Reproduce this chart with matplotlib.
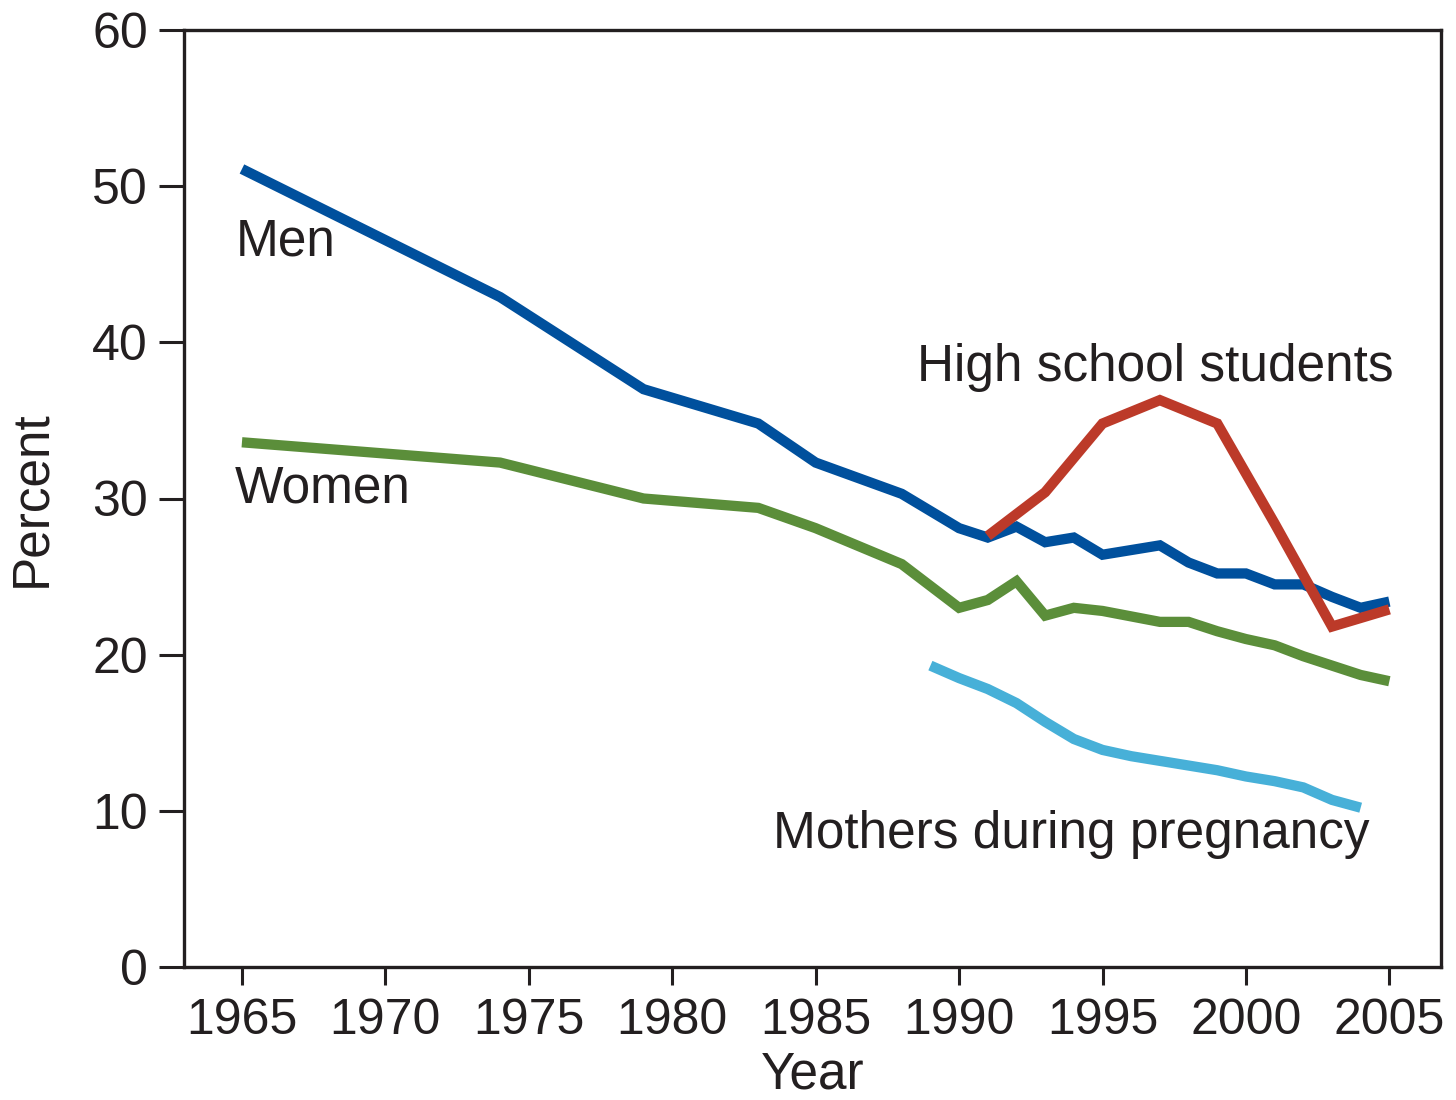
import matplotlib
matplotlib.use("Agg")
import matplotlib.pyplot as plt

plt.rcParams['font.family'] = ['Liberation Sans', 'DejaVu Sans']

# Data (percent who smoke)
men_years = [1965, 1974, 1979, 1983, 1985, 1988, 1990, 1991, 1992, 1993, 1994, 1995,
             1997, 1998, 1999, 2000, 2001, 2002, 2003, 2004, 2005]
men_vals = [51.1, 42.9, 37.0, 34.8, 32.3, 30.3, 28.1, 27.5, 28.2, 27.2, 27.5, 26.4,
            27.0, 25.9, 25.2, 25.2, 24.5, 24.5, 23.7, 23.0, 23.4]

women_years = men_years
women_vals = [33.6, 32.3, 30.0, 29.4, 28.1, 25.8, 23.0, 23.5, 24.7, 22.5, 23.0, 22.8,
              22.1, 22.1, 21.5, 21.0, 20.6, 19.9, 19.3, 18.7, 18.3]

hs_years = [1991, 1993, 1995, 1997, 1999, 2001, 2003, 2005]
hs_vals = [27.6, 30.4, 34.8, 36.3, 34.8, 28.4, 21.8, 22.9]

mothers_years = [1989, 1990, 1991, 1992, 1993, 1994, 1995, 1996, 1997, 1998, 1999,
                 2000, 2001, 2002, 2003, 2004]
mothers_vals = [19.3, 18.5, 17.8, 16.9, 15.7, 14.6, 13.9, 13.5, 13.2, 12.9, 12.6,
                12.2, 11.9, 11.5, 10.7, 10.2]

x_ticks = [1965, 1970, 1975, 1980, 1985, 1990, 1995, 2000, 2005]
y_ticks = [0, 10, 20, 30, 40, 50, 60]

TEXT = '#231f20'
fig = plt.figure(figsize=(14.56, 11), dpi=100)
ax = fig.add_axes([184/1456, 1 - 967/1100, (1441 - 184)/1456, (967 - 30)/1100])

lw = 7.4
ax.plot(men_years, men_vals, color='#00509d', lw=lw, solid_joinstyle='miter', solid_capstyle='butt', zorder=3)
ax.plot(women_years, women_vals, color='#5b8e3a', lw=lw, solid_joinstyle='miter', solid_capstyle='butt', zorder=2)
ax.plot(hs_years, hs_vals, color='#bc3a29', lw=lw, solid_joinstyle='miter', solid_capstyle='butt', zorder=4)
ax.plot(mothers_years, mothers_vals, color='#47b0d8', lw=lw, solid_joinstyle='miter', solid_capstyle='butt', zorder=2)

ax.set_xlim(1962.98, 2006.8)
ax.set_ylim(0, 60)
ax.set_xticks(x_ticks)
ax.set_yticks(y_ticks)

fs_tick = 36
fs = 37
ax.tick_params(axis='x', direction='out', length=13, width=2.2, pad=9, labelsize=fs_tick, colors=TEXT)
ax.tick_params(axis='y', direction='out', length=18, width=2.2, pad=8, labelsize=fs_tick, colors=TEXT)
for s in ax.spines.values():
    s.set_linewidth(2.4)
    s.set_color(TEXT)

ax.set_xlabel('Year', fontsize=fs, color=TEXT, labelpad=5)
ax.set_ylabel('Percent', fontsize=fs, color=TEXT, labelpad=26)

ax.text(1964.8, 46.4, 'Men', fontsize=fs, color=TEXT, va='center', ha='left')
ax.text(1964.75, 30.6, 'Women', fontsize=fs, color=TEXT, va='center', ha='left')
ax.text(1988.55, 38.4, 'High school students', fontsize=fs, color=TEXT, va='center', ha='left')
ax.text(1983.5, 8.5, 'Mothers during pregnancy', fontsize=fs, color=TEXT, va='center', ha='left')

fig.savefig('out.png', dpi=100)
